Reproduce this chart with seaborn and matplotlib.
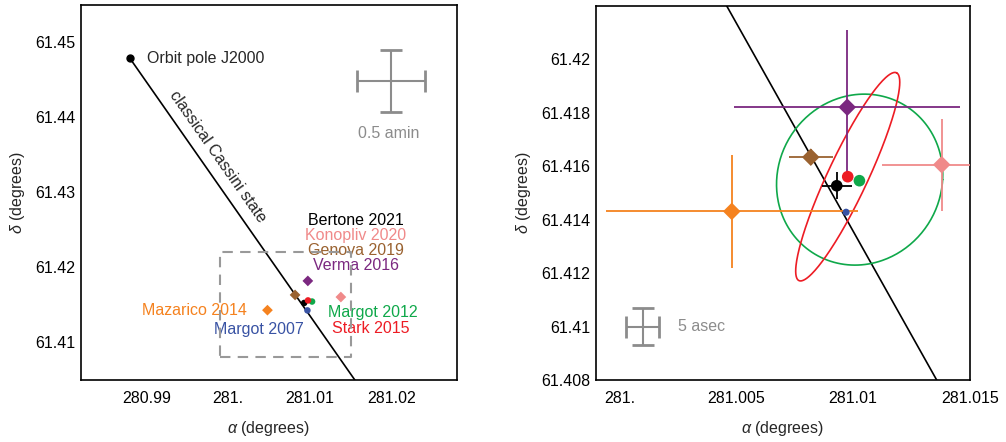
import numpy as np
import pandas as pd
import matplotlib
matplotlib.use("Agg")
import matplotlib.pyplot as plt
import seaborn as sns

# Pole determinations (degrees)
labels = ['Bertone 2021', 'Konopliv 2020', 'Genova 2019', 'Verma 2016',
          'Mazarico 2014', 'Margot 2007', 'Margot 2012', 'Stark 2015']
ra = [281.0093, 281.01379, 281.00819, 281.00975, 281.00481, 281.0097, 281.01027, 281.00977]
dec = [61.41527, 61.41606, 61.41634, 61.41821, 61.41431, 61.41428, 61.41546, 61.41561]
ra_err = [0.00065, 0.00254, 0.00093, 0.00483, 0.0054, 0.0, 0.0, 0.0]
dec_err_lo = [0.0005, 0.00172, 0.0003, 0.0025, 0.00213, 0.0, 0.0, 0.0]
dec_err_hi = [0.0005, 0.00172, 0.0003, 0.0029, 0.00213, 0.0, 0.0, 0.0]
markers = ['o', 'D', 'D', 'D', 'D', 'o', 'o', 'o']
colors = ['#000000', '#f08a8a', '#9a6230', '#7b2880', '#f5821f', '#3953a4', '#0fa84a', '#ed1c24']

# Orbit pole and classical Cassini state line
orbit_pole = (280.9880, 61.44787)
cassini_ra = [280.9880, 281.0165]
cassini_dec = [61.44787, 61.40344]

# Uncertainty ellipses (center, semi-axis vectors in degrees)
margot2012_ell = dict(c=(281.01028, 61.41550), a=(0.00355, 0.0), b=(0.0002, 0.0032))
stark2015_ell = dict(c=(281.00977, 61.41561), a=(0.002087, 0.003889), b=(0.000774, -0.000319))

# Label positions in the overview panel
label_ra = [281.01563, 281.01563, 281.01563, 281.01563, 281.00225, 281.0037, 281.01775, 281.0174]
label_dec = [61.42623, 61.42423, 61.42223, 61.42023, 61.41427, 61.41169, 61.4140, 61.41192]
label_ha = ['center', 'center', 'center', 'center', 'right', 'center', 'center', 'center']

df = pd.DataFrame({'label': labels, 'ra': ra, 'dec': dec, 'marker': markers})

sns.set_theme(style="white")
plt.rcParams['font.family'] = ['Liberation Sans', 'DejaVu Sans']
plt.rcParams['mathtext.fontset'] = 'custom'
plt.rcParams['mathtext.it'] = 'Liberation Sans:italic'
plt.rcParams['mathtext.rm'] = 'Liberation Sans'

fig = plt.figure(figsize=(10.06, 4.42), dpi=100)
ax1 = fig.add_axes([0.0805, 0.1403, 0.3738, 0.8484])
ax2 = fig.add_axes([0.5924, 0.1403, 0.3718, 0.8462])

palette = dict(zip(labels, colors))
marker_map = dict(zip(labels, markers))
gray = '#8c8c8c'
fs = 11.5


def style_axes(ax, xticks, xlabels, yticks, ylabels, xlim, ylim):
    ax.set_xlim(*xlim)
    ax.set_ylim(*ylim)
    ax.set_xticks(xticks)
    ax.set_xticklabels(xlabels)
    ax.set_yticks(yticks)
    ax.set_yticklabels(ylabels)
    ax.tick_params(direction='in', length=4, width=1, colors='black', labelsize=fs)
    ax.tick_params(axis='x', pad=8)
    ax.tick_params(axis='y', pad=4)
    for s in ax.spines.values():
        s.set_color('black')
        s.set_linewidth(1.2)
    ax.set_xlabel(r'$\alpha$ (degrees)', fontsize=fs, labelpad=9)
    ax.set_ylabel(r'$\delta$ (degrees)', fontsize=fs, labelpad=6)


def draw_ellipse(ax, ell, color):
    t = np.linspace(0, 2 * np.pi, 300)
    x = ell['c'][0] + ell['a'][0] * np.cos(t) + ell['b'][0] * np.sin(t)
    y = ell['c'][1] + ell['a'][1] * np.cos(t) + ell['b'][1] * np.sin(t)
    ax.plot(x, y, color=color, lw=1.2, zorder=3)


# ---------------- left: overview ----------------
ax1.plot(cassini_ra, cassini_dec, color='black', lw=1.2, zorder=2)
ax1.plot(*orbit_pole, 'o', color='black', ms=5, zorder=4)
ax1.text(orbit_pole[0] + 0.0021, orbit_pole[1], 'Orbit pole J2000', fontsize=fs, va='center')
ax1.text(280.99878, 61.4348, 'classical Cassini state', fontsize=fs, rotation=-55,
         rotation_mode='anchor', ha='center', va='center')

sns.scatterplot(data=df, x='ra', y='dec', hue='label', palette=palette, style='label',
                markers=marker_map, size='label',
                sizes={l: (30 if m == 'D' else 22) for l, m in marker_map.items()},
                edgecolor='none', linewidth=0, legend=False, ax=ax1, zorder=5)

for i, lab in enumerate(labels):
    ax1.text(label_ra[i], label_dec[i], lab, color=colors[i], fontsize=fs,
             ha=label_ha[i], va='center', zorder=3)

ax1.plot([280.999, 281.015, 281.015, 280.999, 280.999],
         [61.408, 61.408, 61.422, 61.422, 61.408],
         color='#999999', lw=1.5, ls=(0, (5, 3.5)), zorder=6)

ax1.errorbar(281.0199, 61.44489, xerr=0.25 / 60, yerr=0.25 / 60, color=gray,
             lw=1.5, capsize=8, capthick=2)
ax1.text(281.0197, 61.4379, '0.5 amin', color=gray, fontsize=fs, ha='center', va='center')

style_axes(ax1, [280.99, 281.0, 281.01, 281.02], ['280.99', '281.', '281.01', '281.02'],
           [61.41, 61.42, 61.43, 61.44, 61.45], ['61.41', '61.42', '61.43', '61.44', '61.45'],
           (280.982, 281.028), (61.405, 61.455))

# ---------------- right: zoom ----------------
ax2.plot(cassini_ra, cassini_dec, color='black', lw=1.2, zorder=2)
draw_ellipse(ax2, margot2012_ell, colors[6])
draw_ellipse(ax2, stark2015_ell, colors[7])

for i in range(len(labels)):
    if ra_err[i] > 0:
        ax2.errorbar(ra[i], dec[i], xerr=ra_err[i],
                     yerr=[[dec_err_lo[i]], [dec_err_hi[i]]],
                     fmt='none', ecolor=colors[i], elinewidth=1.3, capsize=0, zorder=4)

sns.scatterplot(data=df, x='ra', y='dec', hue='label', palette=palette, style='label',
                markers=marker_map, size='label',
                sizes={'Bertone 2021': 70, 'Konopliv 2020': 80, 'Genova 2019': 80,
                       'Verma 2016': 80, 'Mazarico 2014': 80, 'Margot 2007': 26,
                       'Margot 2012': 70, 'Stark 2015': 70},
                edgecolor='none', linewidth=0, legend=False, ax=ax2, zorder=5)

ax2.errorbar(281.001, 61.41, xerr=2.5 / 3600, yerr=2.5 / 3600, color=gray,
             lw=1.5, capsize=8, capthick=2)
ax2.text(281.0025, 61.41, '5 asec', color=gray, fontsize=fs, ha='left', va='center')

style_axes(ax2, [281.0, 281.005, 281.01, 281.015], ['281.', '281.005', '281.01', '281.015'],
           [61.408, 61.41, 61.412, 61.414, 61.416, 61.418, 61.42],
           ['61.408', '61.41', '61.412', '61.414', '61.416', '61.418', '61.42'],
           (280.999, 281.015), (61.408, 61.422))

fig.savefig('out.png', dpi=100)
